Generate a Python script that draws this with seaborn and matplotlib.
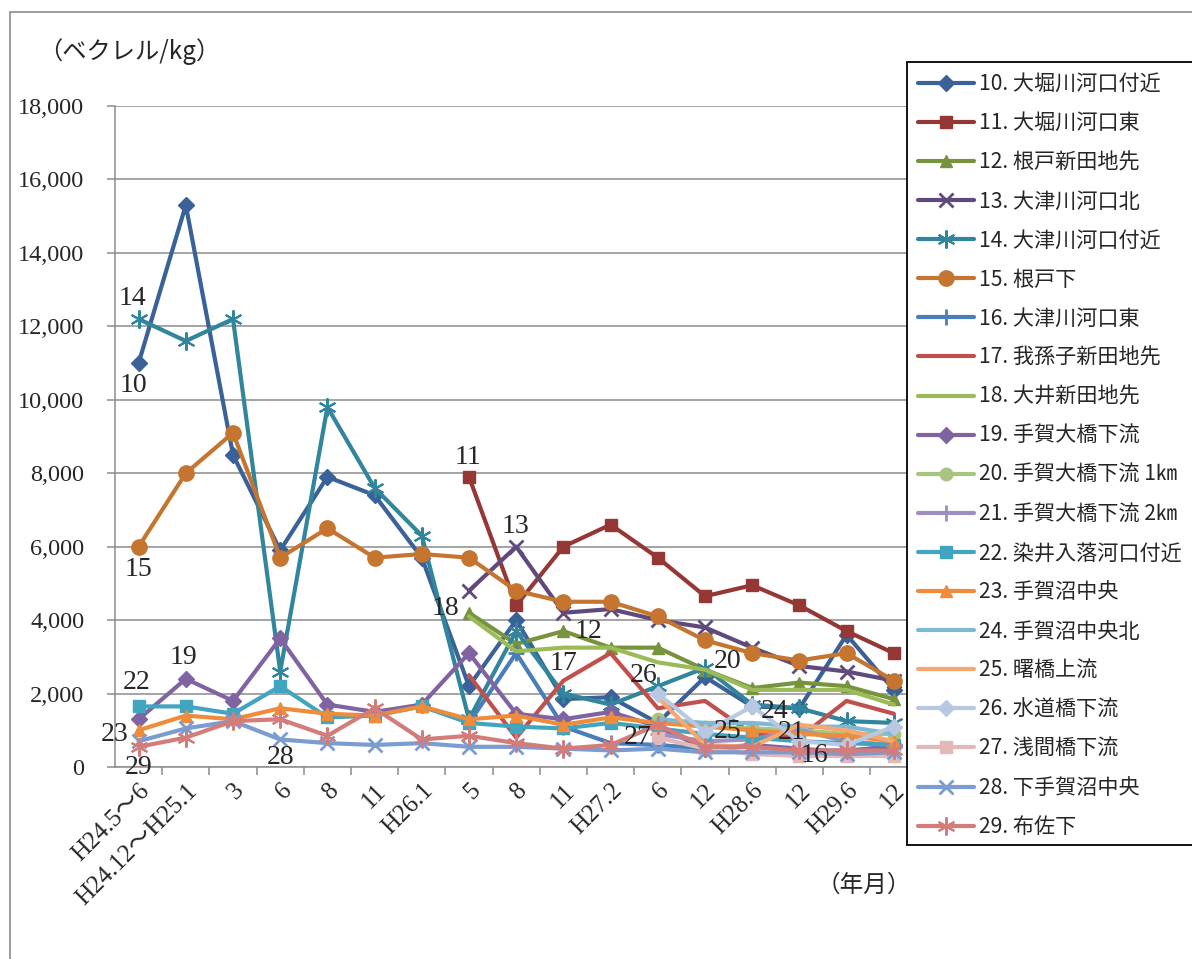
import numpy as np
import matplotlib
matplotlib.use("Agg")
import matplotlib.pyplot as plt
import seaborn as sns
from matplotlib.patches import Rectangle
from matplotlib.lines import Line2D

nan = np.nan

categories = ["H24.5～6", "H24.12～H25.1", "3", "6", "8", "11", "H26.1", "5", "8", "11",
              "H27.2", "6", "12", "H28.6", "12", "H29.6", "12"]

s10 = [11000, 15300, 8500, 5900, 7900, 7400, 5700, 2200, 4000, 1850, 1900, 1200, 2450, 1650, 1600, 3600, 2100]
s11 = [nan, nan, nan, nan, nan, nan, nan, 7900, 4400, 6000, 6600, 5700, 4650, 4950, 4400, 3700, 3100]
s12 = [nan, nan, nan, nan, nan, nan, nan, 4200, 3350, 3700, 3250, 3250, 2650, 2150, 2300, 2200, 1850]
s13 = [nan, nan, nan, nan, nan, nan, nan, 4800, 6000, 4200, 4300, 4000, 3800, 3250, 2750, 2600, 2350]
s14 = [12200, 11600, 12200, 2600, 9800, 7600, 6300, 1300, 3700, 2000, 1700, 2200, 2700, 1700, 1600, 1250, 1200]
s15 = [6000, 8000, 9100, 5700, 6500, 5700, 5800, 5700, 4800, 4500, 4500, 4100, 3450, 3100, 2900, 3100, 2350]
s16 = [nan, nan, nan, nan, nan, nan, nan, 1200, 3100, 1100, 650, 600, 500, 550, 450, 450, 550]
s17 = [nan, nan, nan, nan, nan, nan, nan, 2500, 800, 2350, 3100, 1600, 1800, 900, 800, 1800, 1450]
s18 = [nan, nan, nan, nan, nan, nan, nan, 4100, 3150, 3250, 3250, 2850, 2650, 2100, 2100, 2100, 1700]
s19 = [1300, 2400, 1800, 3500, 1700, 1500, 1700, 3100, 1450, 1300, 1500, 1100, 500, 600, 500, 400, 600]
s20 = [nan, nan, nan, nan, nan, nan, nan, nan, nan, nan, nan, 1300, 1100, 1050, 1000, 900, 900]
s21 = [nan, nan, nan, nan, nan, nan, nan, nan, nan, nan, nan, 900, 700, 750, 1000, 700, 600]
s22 = [1650, 1650, 1450, 2200, 1350, 1400, 1650, 1200, 1100, 1050, 1200, 1050, 900, 800, 700, 650, 600]
s23 = [1000, 1400, 1300, 1600, 1450, 1400, 1650, 1300, 1400, 1150, 1350, 1200, 1100, 1000, 900, 850, 700]
s24 = [nan, nan, nan, nan, nan, nan, nan, nan, nan, nan, nan, 1300, 1200, 1200, 1100, 1100, 900]
s25 = [nan, nan, nan, nan, nan, nan, nan, nan, nan, nan, nan, 1900, 600, 550, 1150, 1000, 700]
s26 = [nan, nan, nan, nan, nan, nan, nan, nan, nan, nan, nan, 2000, 950, 1650, 700, 600, 1100]
s27 = [nan, nan, nan, nan, nan, nan, nan, nan, nan, nan, nan, 800, 500, 350, 300, 300, 300]
s28 = [700, 1050, 1250, 750, 650, 600, 650, 550, 550, 500, 450, 500, 400, 400, 400, 350, 400]
s29 = [550, 800, 1250, 1300, 850, 1600, 750, 850, 650, 500, 600, 1150, 550, 550, 450, 450, 450]

names = ["10. 大堀川河口付近", "11. 大堀川河口東", "12. 根戸新田地先", "13. 大津川河口北",
         "14. 大津川河口付近", "15. 根戸下", "16. 大津川河口東", "17. 我孫子新田地先",
         "18. 大井新田地先", "19. 手賀大橋下流", "20. 手賀大橋下流 1㎞", "21. 手賀大橋下流 2㎞",
         "22. 染井入落河口付近", "23. 手賀沼中央", "24. 手賀沼中央北", "25. 曙橋上流",
         "26. 水道橋下流", "27. 浅間橋下流", "28. 下手賀沼中央", "29. 布佐下"]
values = [s10, s11, s12, s13, s14, s15, s16, s17, s18, s19,
          s20, s21, s22, s23, s24, s25, s26, s27, s28, s29]

# point labels (text, category position, value)
point_labels = [("14", -0.14, 12750), ("10", -0.10, 10400), ("15", 0.0, 5390),
                ("22", -0.05, 2300), ("19", 0.96, 2990), ("23", -0.5, 890),
                ("29", 0.0, -10), ("28", 3.0, 260), ("11", 6.98, 8440),
                ("13", 7.99, 6540), ("18", 6.51, 4310), ("12", 9.54, 3680),
                ("17", 9.01, 2830), ("26", 10.69, 2500), ("27", 10.58, 810),
                ("20", 12.47, 2880), ("25", 12.47, 970), ("24", 13.48, 1520),
                ("21", 13.84, 950), ("16", 14.31, 320)]

AST = (6, 2, 0)
styles = [
    ("#3A6198", "D", 8, 1),
    ("#953735", "s", 9, 1),
    ("#77933C", "^", 9, 1),
    ("#604A7B", "x", 10, 2),
    ("#31859C", AST, 13, 1.5),
    ("#C5752F", "o", 11, 1),
    ("#4A7EBB", "+", 11, 2),
    ("#C0504D", None, 0, 0),
    ("#9BBB59", None, 0, 0),
    ("#8064A2", "D", 8, 1),
    ("#A9C47F", "o", 9, 1),
    ("#9F8FBF", "+", 11, 2),
    ("#41A5C0", "s", 9, 1),
    ("#EE8C3C", "^", 9, 1),
    ("#7DB9D2", None, 0, 0),
    ("#F9A770", None, 0, 0),
    ("#B9C8E2", "D", 8, 1),
    ("#E2B9B8", "s", 9, 1),
    ("#7B9CD1", "x", 10, 2),
    ("#D47C79", AST, 13, 1.5),
]

sns.set_style("white")
SERIF = ['Liberation Serif', 'Noto Sans CJK JP']
plt.rcParams['font.family'] = SERIF

W, H = 1192, 959
fig = plt.figure(figsize=(W / 100, H / 100), dpi=100)
ax = fig.add_axes([115 / W, 1 - 767 / H, (907 - 115) / W, (767 - 106) / H])

x = np.arange(len(categories))
handles = []
for name, vals, (col, mk, ms, mew) in zip(names, values, styles):
    y = np.array(vals, dtype=float)
    kw = dict(color=col, linewidth=3.0, ax=ax, errorbar=None)
    if mk is not None:
        kw.update(marker=mk, markersize=ms, markeredgecolor=col, markerfacecolor=col, markeredgewidth=mew)
    sns.lineplot(x=x, y=y, **kw)
    handles.append(Line2D([], [], color=col, linewidth=3.0,
                          marker=mk if mk is not None else None,
                          markersize=ms, markeredgecolor=col, markerfacecolor=col,
                          markeredgewidth=mew, label=name))
if ax.get_legend() is not None:
    ax.get_legend().remove()

ax.set_xlim(-0.5, -0.5 + 792 / 47.2)
ax.set_ylim(0, 18000)
ax.set_yticks(np.arange(0, 18001, 2000))
ax.set_yticklabels([f"{v:,}" for v in range(0, 18001, 2000)], family=SERIF)
ax.grid(axis='y', color='#8C8C8C', linewidth=1.1)
ax.grid(axis='x', visible=False)
ax.set_axisbelow(True)
for s in ['top', 'right']:
    ax.spines[s].set_visible(False)
for s in ['left', 'bottom']:
    ax.spines[s].set_color('#8C8C8C')
    ax.spines[s].set_linewidth(1.1)

ax.set_xticks(np.arange(0.5, len(categories) - 1, 1))
ax.set_xticklabels([])
ax.set_xticks(x, minor=True)
ax.set_xticklabels(categories, minor=True, rotation=45, ha='right', va='top',
                   rotation_mode='anchor', fontsize=18, family=SERIF)
ax.tick_params(axis='x', which='major', length=6, width=1.1, color='#8C8C8C', direction='out', bottom=True)
ax.tick_params(axis='x', which='minor', length=0, pad=9)
ax.tick_params(axis='y', length=6, width=1.1, color='#8C8C8C', direction='out', left=True,
               labelsize=17.5, pad=16)
ax.set_xlabel("")
ax.set_ylabel("")

for t, px, py in point_labels:
    ax.text(px, py, t, fontsize=20, ha='center', va='center', family=SERIF, zorder=10)

fig.text(38 / W, 1 - 52 / H, "（ベクレル/kg）", fontsize=17.5, family='Noto Sans CJK JP',
         ha='left', va='center')
fig.text(864 / W, 1 - 885 / H, "（年月）", fontsize=17, family='Noto Sans CJK JP',
         ha='center', va='center')

# outer chart border
fig.patches.append(Rectangle((10 / W, -0.2), 1.5, 1 - 12 / H + 0.2, transform=fig.transFigure,
                             fill=False, edgecolor='#8C8C8C', linewidth=1.2, zorder=0))
# legend box
fig.patches.append(Rectangle((907 / W, 1 - 845 / H), 0.5, (845 - 62) / H, transform=fig.transFigure,
                             facecolor='white', edgecolor='black', linewidth=1.3, zorder=3))

fig.legend(handles=handles, loc='upper left', bbox_to_anchor=(915 / W, 1 - 70 / H),
           frameon=False, prop={'family': ['Noto Sans CJK JP'], 'size': 15.2},
           handlelength=2.65, handletextpad=0.25, labelspacing=0.81, borderpad=0.15,
           borderaxespad=0)

fig.savefig("out.png", dpi=100)
